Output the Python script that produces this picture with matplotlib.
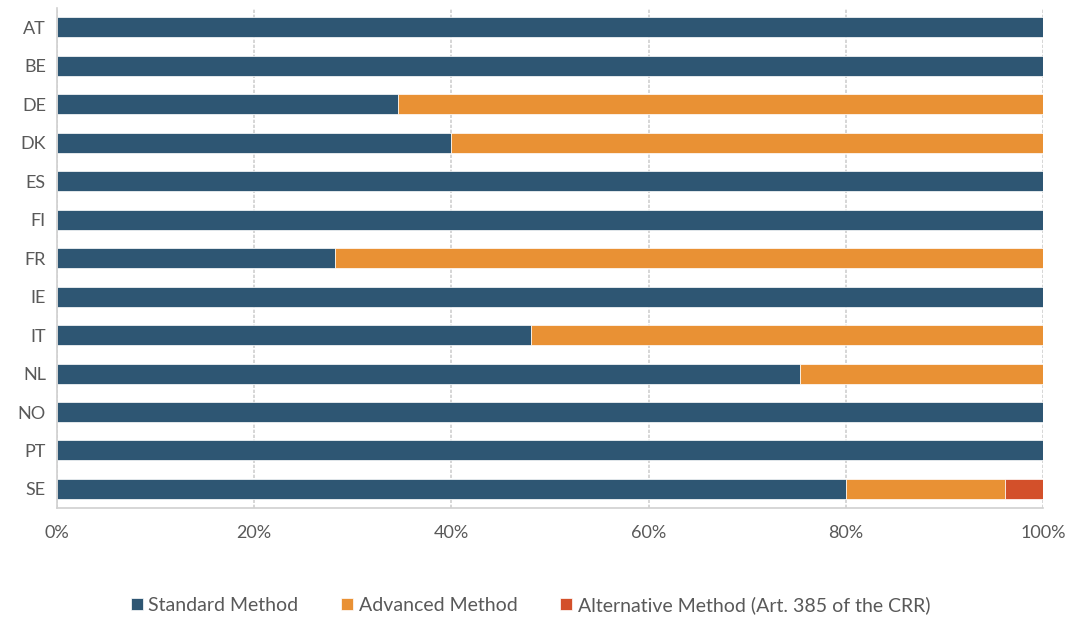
import matplotlib.pyplot as plt
from matplotlib.ticker import PercentFormatter

plt.rcParams['font.family'] = ['Lato', 'DejaVu Sans']

countries = ["AT", "BE", "DE", "DK", "ES", "FI", "FR", "IE", "IT", "NL", "NO", "PT", "SE"]
standard = [100, 100, 34.6, 40.0, 100, 100, 28.2, 100, 48.1, 75.4, 100, 100, 80.0]
advanced = [0, 0, 65.4, 60.0, 0, 0, 71.8, 0, 51.9, 24.6, 0, 0, 16.1]
alternative = [0, 0, 0, 0, 0, 0, 0, 0, 0, 0, 0, 0, 3.9]

colors = ["#2E5673", "#E99134", "#D3502A"]
labels = ["Standard Method", "Advanced Method", "Alternative Method (Art. 385 of the CRR)"]

fig = plt.figure(figsize=(10.72, 6.19), dpi=100)
ax = fig.add_axes([0.0532, 0.179, 0.9198, 0.808])

y = list(range(len(countries)))
left = [0] * len(countries)
for vals, col, lab in zip([standard, advanced, alternative], colors, labels):
    ax.barh(y, vals, left=left, height=0.52, color=col, label=lab,
            edgecolor="white", linewidth=0.5)
    left = [a + b for a, b in zip(left, vals)]

ax.set_ylim(len(countries) - 0.5, -0.5)
ax.set_xlim(0, 100)
ax.set_yticks(y)
ax.set_yticklabels(countries)
ax.set_xticks([0, 20, 40, 60, 80, 100])
ax.xaxis.set_major_formatter(PercentFormatter(decimals=0))
ax.tick_params(axis="both", length=0, colors="#595959", labelsize=13)
ax.tick_params(axis="x", pad=12)
ax.tick_params(axis="y", pad=8)

ax.grid(axis="x", color="#D0D0D0", linestyle=(0, (2, 1)), linewidth=1.2)
ax.set_axisbelow(True)
for side in ["top", "right"]:
    ax.spines[side].set_visible(False)
for side in ["left", "bottom"]:
    ax.spines[side].set_color("#D0D0D0")
    ax.spines[side].set_linestyle((0, (2, 1)))
    ax.spines[side].set_linewidth(1.2)

leg = fig.legend(loc="lower center", bbox_to_anchor=(0.495, -0.02), ncol=3, frameon=False,
                 fontsize=14, handlelength=0.6, handleheight=0.6, handletextpad=0.3,
                 columnspacing=2.2, labelcolor="#595959")

fig.savefig("out.png", dpi=100)
